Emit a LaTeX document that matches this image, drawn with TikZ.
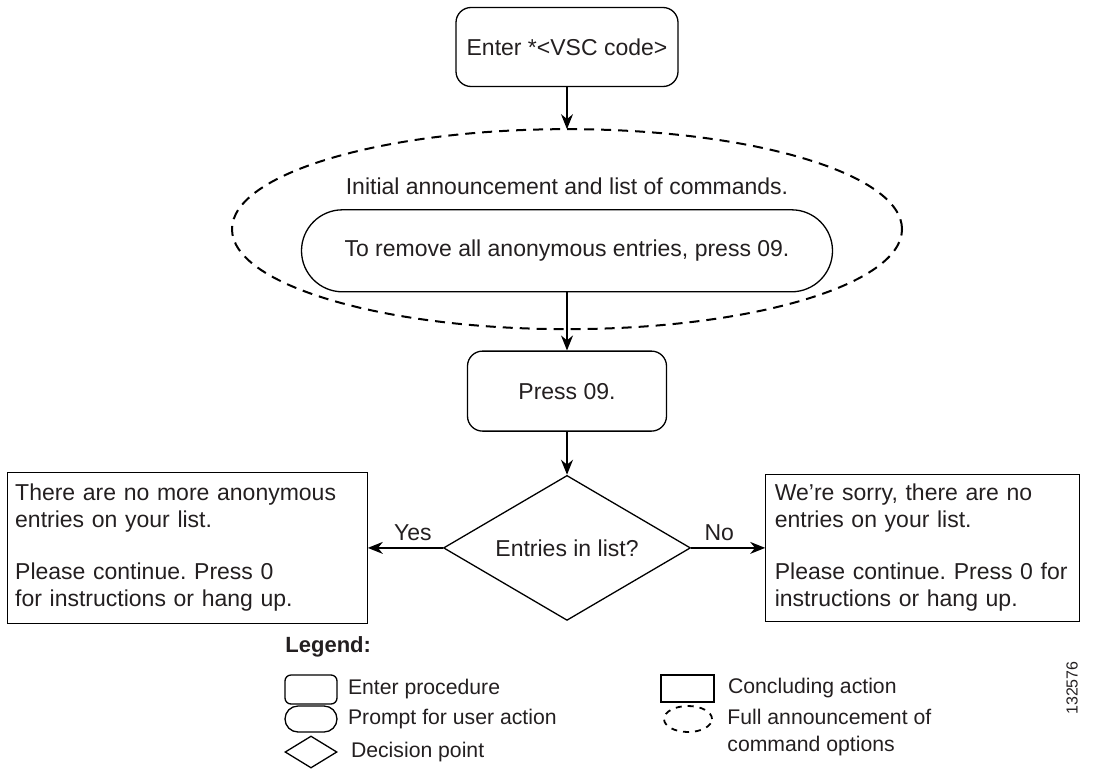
\documentclass[tikz,border=0pt]{standalone}
\usepackage{fontspec}
\setmainfont{Liberation Sans}
\usepackage{tikz}
\usetikzlibrary{arrows.meta, positioning, shapes}
\usepackage{xcolor}
\definecolor{ink}{HTML}{231F20}
\frenchspacing

\begin{document}
\begin{tikzpicture}[
  x=0.5pt, y=-0.5pt,
  font=\fontsize{11.5}{13.5}\selectfont, text=ink,
  enter/.style={rectangle, draw, rounded corners=7.5pt, line width=0.65pt, align=center},
  prompt/.style={rectangle, draw, rounded corners=20.5pt, line width=0.65pt,
    minimum width=265.5pt, minimum height=41pt},
  decision/.style={diamond, draw, aspect=1.7, line width=0.65pt, inner sep=1pt,
    minimum width=123.5pt, minimum height=72.5pt},
  concl/.style={rectangle, draw, line width=0.65pt, align=left},
  announce/.style={ellipse, draw, line width=1pt, dash pattern=on 5pt off 3.5pt,
    minimum width=335pt, minimum height=100pt, inner sep=0pt, outer sep=0pt},
  legtext/.style={inner sep=0pt, font=\fontsize{10.6}{13.5}\selectfont},
  flow/.style={-{Stealth[length=7.5pt, width=6pt]}, line width=0.65pt}
]
\useasboundingbox (0,0) rectangle (1096,776);

% Main flow
\node[enter, minimum width=111pt, minimum height=39.5pt] (vsc) at (567,47) {Enter *<VSC code>};
\node[announce, below=21pt of vsc] (menu) {};
\node[prompt, below=40pt of menu.north] (remove) {To remove all anonymous entries, press 09.};
\node[inner sep=0pt, above=7pt of remove] (intro) {Initial announcement and list of commands.};
\node[enter, below=29pt of remove, minimum width=99.5pt, minimum height=40pt] (press) {Press 09.};
\node[decision, below=21.5pt of press] (check) {Entries in list?};

% Outcomes
\node[concl, left=37.5pt of check, text width=172pt, inner xsep=4pt, minimum height=75.5pt] (yesbox)
  {There are no more anonymous\\entries on your list.\\[12.5pt]Please continue. Press 0\\for instructions or hang up.};
\node[concl, right=37pt of check, text width=148pt, inner xsep=4.5pt, minimum height=73.5pt] (nobox)
  {We’re sorry, there are no\\entries on your list.\\[12.5pt]Please continue. Press 0 for\\instructions or hang up.};

% Arrows
\draw[flow] (vsc) -- (menu);
\draw[flow] (remove) -- (press);
\draw[flow] (press) -- (check);
\draw[flow] (check) -- node[above, pos=0.4] {Yes} (yesbox);
\draw[flow] (check) -- node[above, pos=0.38] {No} (nobox);

% Legend
\node[anchor=west, inner sep=0pt, font=\fontsize{11}{13}\selectfont\bfseries] (leghead) at (285,647) {Legend:};
\node[enter, rounded corners=3pt, minimum width=26pt, minimum height=14.5pt] (lenter) at (311,689.5) {};
\node[legtext, right=5pt of lenter] (lentertxt) {Enter procedure};
\node[prompt, rounded corners=6.5pt, minimum width=26pt, minimum height=13pt] (lprompt) at (311,719) {};
\node[legtext, right=5pt of lprompt] (lprompttxt) {Prompt for user action};
\node[decision, minimum width=26pt, minimum height=16pt] (ldecide) at (311,752) {};
\node[legtext, right=6.5pt of ldecide] (ldecidetxt) {Decision point};
\node[concl, minimum width=26.5pt, minimum height=13.5pt] (lconc) at (687.5,688.5) {};
\node[legtext, right=6.5pt of lconc] (lconctxt) {Concluding action};
\node[announce, line width=0.9pt, dash pattern=on 3pt off 3pt,
  minimum width=24pt, minimum height=13pt] (lfull) at (688,719) {};
\node[legtext, right=7.5pt of lfull, yshift=-6.75pt, align=left] (lfulltxt) {Full announcement of\\command options};

\node[rotate=90, inner sep=0pt, font=\fontsize{8}{9}\selectfont] (figno) at (1072,688) {132576};
\end{tikzpicture}
\end{document}
